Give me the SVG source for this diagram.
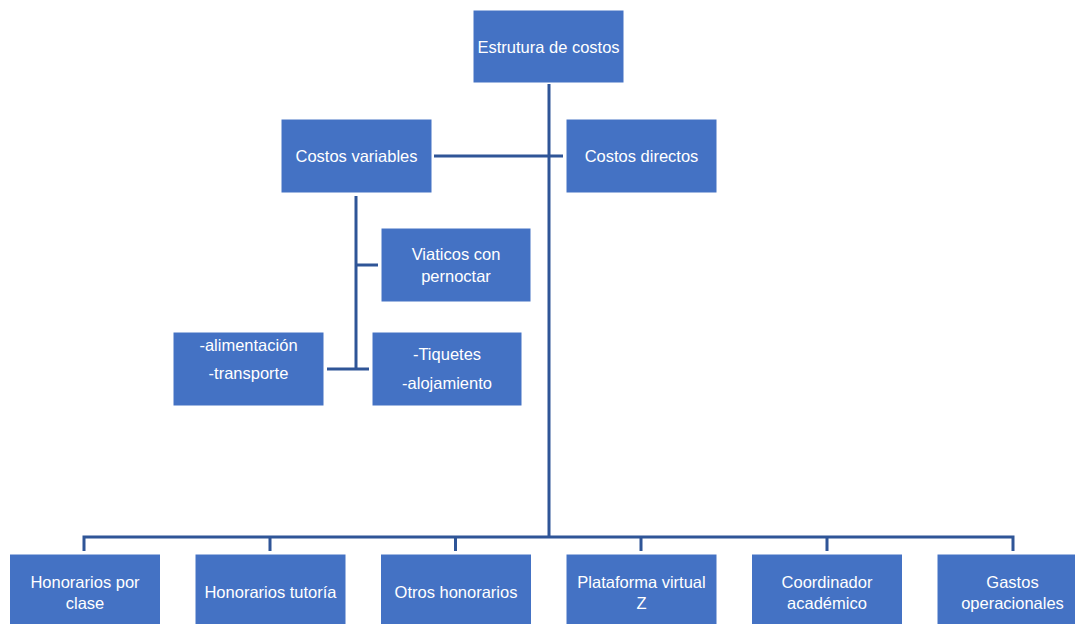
<svg xmlns="http://www.w3.org/2000/svg" width="1075" height="624" viewBox="0 0 1075 624">
  <style>
    .box { fill: #4472C4; stroke: #FFFFFF; stroke-width: 1; }
    .lbl { fill: #FFFFFF; font-family: "Liberation Sans", Arial, sans-serif; font-size: 16.5px; text-anchor: middle; dominant-baseline: central; }
    .conn { fill: none; stroke: #2F5597; stroke-width: 3; }
  </style>
  <rect width="1075" height="624" fill="#FFFFFF"/>

  <!-- connectors -->
  <g id="connectors">
    <path class="conn" d="M549 84 V537"/>
    <path class="conn" d="M434 156 H563"/>
    <path class="conn" d="M356 196 V369"/>
    <path class="conn" d="M356 265 H378"/>
    <path class="conn" d="M327 369 H369"/>
    <path class="conn" d="M84 551 V537 H1013 V551"/>
    <path class="conn" d="M270 537 V551 M455.5 537 V551 M641 537 V551 M827 537 V551"/>
  </g>

  <g id="estrutura">
    <rect class="box" x="473" y="10" width="151" height="73"/>
    <text class="lbl" x="548.5" y="47">Estrutura de costos</text>
  </g>

  <g id="costos-variables">
    <rect class="box" x="281" y="119" width="151" height="74"/>
    <text class="lbl" x="356.5" y="156">Costos variables</text>
  </g>

  <g id="costos-directos">
    <rect class="box" x="566" y="119" width="151" height="74"/>
    <text class="lbl" x="641.5" y="156">Costos directos</text>
  </g>

  <g id="viaticos">
    <rect class="box" x="381" y="228" width="150" height="74"/>
    <text class="lbl" x="456" y="254">Viaticos con</text>
    <text class="lbl" x="456" y="276">pernoctar</text>
  </g>

  <g id="alimentacion">
    <rect class="box" x="173" y="332" width="151" height="74"/>
    <text class="lbl" x="248.5" y="345">-alimentación</text>
    <text class="lbl" x="248.5" y="373">-transporte</text>
  </g>

  <g id="tiquetes">
    <rect class="box" x="372" y="332" width="150" height="74"/>
    <text class="lbl" x="447" y="354">-Tiquetes</text>
    <text class="lbl" x="447" y="383">-alojamiento</text>
  </g>

  <g id="honorarios-clase">
    <rect class="box" x="9.5" y="554" width="151" height="74"/>
    <text class="lbl" x="85" y="582">Honorarios por</text>
    <text class="lbl" x="85" y="603">clase</text>
  </g>

  <g id="honorarios-tutoria">
    <rect class="box" x="195" y="554" width="151" height="74"/>
    <text class="lbl" x="270.5" y="592">Honorarios tutoría</text>
  </g>

  <g id="otros-honorarios">
    <rect class="box" x="380.5" y="554" width="151" height="74"/>
    <text class="lbl" x="456" y="592">Otros honorarios</text>
  </g>

  <g id="plataforma">
    <rect class="box" x="566" y="554" width="151" height="74"/>
    <text class="lbl" x="641.5" y="582">Plataforma virtual</text>
    <text class="lbl" x="641.5" y="603">Z</text>
  </g>

  <g id="coordinador">
    <rect class="box" x="751.5" y="554" width="151" height="74"/>
    <text class="lbl" x="827" y="582">Coordinador</text>
    <text class="lbl" x="827" y="603">académico</text>
  </g>

  <g id="gastos">
    <rect class="box" x="937" y="554" width="151" height="74"/>
    <text class="lbl" x="1012.5" y="582">Gastos</text>
    <text class="lbl" x="1012.5" y="603">operacionales</text>
  </g>
</svg>
